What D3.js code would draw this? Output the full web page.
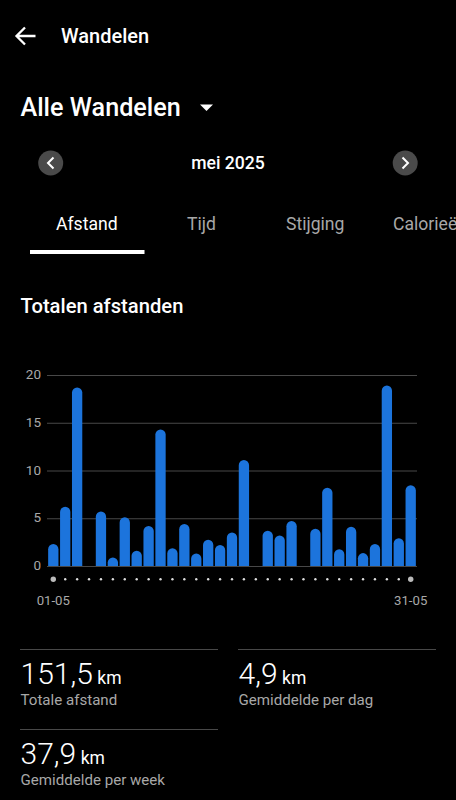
<!DOCTYPE html>
<html>
<head>
<meta charset="utf-8">
<script src="https://cdnjs.cloudflare.com/ajax/libs/d3/7.8.5/d3.min.js"></script>
<style>
html, body { margin: 0; padding: 0; background: #000; overflow: hidden; }
svg { display: block; font-family: Roboto, sans-serif; }
.axis text { font-family: Roboto, sans-serif; }
</style>
</head>
<body>
<div id="chart"></div>
<script>
// Afstand per dag in km, 1 t/m 31 mei
var days = d3.range(1, 32);
var distances = [2.3, 6.2, 18.7, 0, 5.7, 0.9, 5.1, 1.6, 4.2, 14.3, 1.85, 4.4, 1.3, 2.75, 2.2, 3.5,
                 11.1, 0, 3.7, 3.2, 4.7, 0, 3.9, 8.2, 1.75, 4.1, 1.35, 2.3, 18.9, 2.9, 8.45];
var yTicks = [0, 5, 10, 15, 20];
var dateLabels = ['01-05', '31-05'];
var tabs = ['Afstand', 'Tijd', 'Stijging', 'Calorieën'];
var tabStarts = [56, 187, 286, 393];
var stats = [
    {value: '151,5', unit: 'km', label: 'Totale afstand'},
    {value: '4,9', unit: 'km', label: 'Gemiddelde per dag'},
    {value: '37,9', unit: 'km', label: 'Gemiddelde per week'}
];

var width = 456,
    height = 800,
    barWidth = 10.3,
    white = '#fff',
    grey = '#a8a8a8',
    lineColor = '#484848',
    blue = '#1c74dc';

var svg = d3.select('#chart').append('svg')
    .attr('width', width)
    .attr('height', height);

function addText(x, y, text, size, weight, color, anchor) {
    return svg.append('text')
        .attr('x', x)
        .attr('y', y)
        .attr('font-size', size)
        .attr('font-weight', weight)
        .attr('fill', color)
        .attr('text-anchor', anchor || 'start')
        .text(text);
}

// Kopregel
svg.append('path')
    .attr('d', 'M35.5,36H16.5M25,27.5L16.5,36L25,44.5')
    .attr('fill', 'none')
    .attr('stroke', white)
    .attr('stroke-width', 2.3);
addText(61, 42.5, 'Wandelen', 20, 500, white);

addText(20.5, 115.5, 'Alle Wandelen', 25.2, 500, white);
svg.append('path').attr('d', 'M200,104.5H213L206.5,111Z').attr('fill', white);

// Maandkiezer
[[50.7, 'M53.5,157.5L48,163L53.5,168.5'], [405.2, 'M402.5,157.5L408,163L402.5,168.5']].forEach(function(b) {
    svg.append('circle').attr('cx', b[0]).attr('cy', 163).attr('r', 12.5).attr('fill', '#4a4a4a');
    svg.append('path').attr('d', b[1]).attr('fill', 'none').attr('stroke', white).attr('stroke-width', 2);
});
addText(228, 169, 'mei 2025', 17.6, 500, white, 'middle');

// Tabbladen
tabs.forEach(function(t, i) {
    addText(tabStarts[i], 229.5, t, 17.6, 400, i === 0 ? white : grey);
});
svg.append('rect').attr('x', 30).attr('y', 250).attr('width', 114.5).attr('height', 4).attr('fill', white);

addText(20.5, 313, 'Totalen afstanden', 20.2, 500, white);

// Grafiek
var x = d3.scalePoint().domain(days).range([53.3, 410.7]);
var y = d3.scaleLinear().domain([0, 20]).range([566, 375]);

var yAxis = d3.axisLeft(y)
    .tickValues(yTicks)
    .tickSize(0)
    .tickPadding(6);

var axisG = svg.append('g')
    .attr('class', 'axis')
    .attr('transform', 'translate(47,0)')
    .call(yAxis);
axisG.select('.domain').remove();
axisG.selectAll('text')
    .attr('font-size', 13.5)
    .attr('dy', '0.26em')
    .attr('fill', grey);
axisG.selectAll('line')
    .attr('x2', 370)
    .attr('stroke', lineColor)
    .attr('stroke-width', 1.2);

// Balken met afgeronde bovenkant
svg.append('g').selectAll('path').data(days.filter(function(d, i) { return distances[i] > 0; })).enter()
    .append('path')
    .attr('fill', blue)
    .attr('d', function(d) {
        var r = barWidth / 2,
            left = x(d) - r,
            top = y(distances[d - 1]),
            base = y(0),
            corner = Math.min(r, base - top);
        return 'M' + left + ',' + base +
            'V' + (top + corner) +
            'A' + r + ',' + corner + ' 0 0 1 ' + (left + barWidth) + ',' + (top + corner) +
            'V' + base + 'Z';
    });

// Stippen onder de as
svg.append('g').selectAll('circle').data(days).enter()
    .append('circle')
    .attr('cx', function(d) { return x(d); })
    .attr('cy', 579.3)
    .attr('r', function(d) { return d === 1 || d === 31 ? 2.7 : 1.2; })
    .attr('fill', function(d) { return d === 1 || d === 31 ? '#bbb' : '#ddd'; });

addText(x(1), 605, dateLabels[0], 13.2, 400, grey, 'middle');
addText(x(31), 605, dateLabels[1], 13.2, 400, grey, 'middle');

// Totalen
var statBoxes = [[20.5, 649.5], [238.5, 649.5], [20.5, 729.5]];
stats.forEach(function(s, i) {
    var bx = statBoxes[i][0],
        by = statBoxes[i][1];
    svg.append('line')
        .attr('x1', bx - 0.5).attr('x2', bx + 197.5)
        .attr('y1', by).attr('y2', by)
        .attr('stroke', lineColor)
        .attr('stroke-width', 1.2);
    var t = addText(bx, by + 34.5, s.value, 30, 350, white);
    t.append('tspan')
        .attr('dx', 4.5)
        .attr('font-size', 17.5)
        .attr('font-weight', 400)
        .text(s.unit);
    addText(bx, by + 55.5, s.label, 15.1, 400, grey);
});
</script>
</body>
</html>
